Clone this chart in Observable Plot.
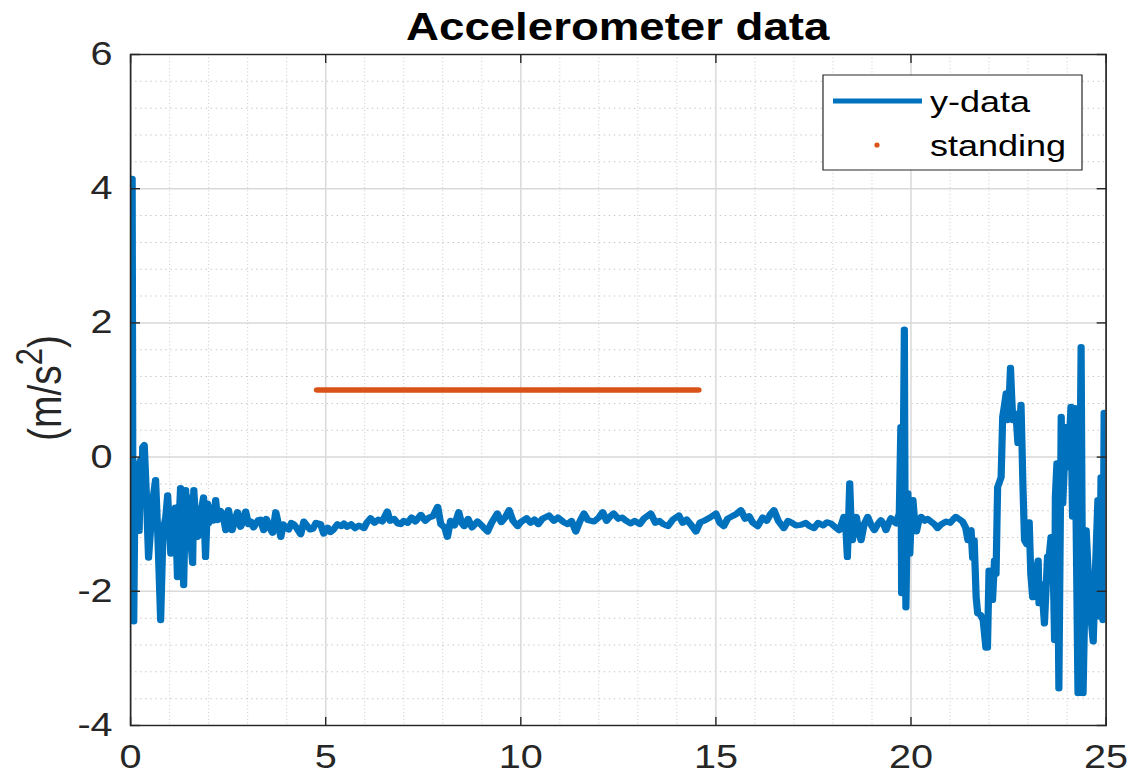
<!DOCTYPE html>
<html><head><meta charset="utf-8">
<script src="https://cdn.jsdelivr.net/npm/d3@7"></script>
<script src="https://cdn.jsdelivr.net/npm/@observablehq/plot@0.6"></script>
<style>
html,body{margin:0;padding:0;background:#fff;overflow:hidden}
#chart{width:1138px;height:783px;position:relative;overflow:hidden}
#chart svg{transform-origin:0 0;transform:scaleX(1.2);display:block;max-width:none!important}
</style></head><body><div id="chart"></div>
<script>
// ---- data ----
const time = [0.00,0.02,0.04,0.06,0.08,0.10,0.13,0.16,0.19,0.22,0.25,0.28,0.31,0.35,0.40,0.46,0.52,0.58,0.64,0.70,0.77,0.83,0.90,0.95,1.03,1.10,1.15,1.20,1.24,1.28,1.32,1.36,1.41,1.46,1.50,1.55,1.59,1.62,1.67,1.72,1.78,1.87,1.92,1.97,2.00,2.07,2.12,2.18,2.23,2.30,2.36,2.44,2.51,2.60,2.67,2.74,2.82,2.88,2.95,3.02,3.08,3.15,3.20,3.27,3.33,3.41,3.48,3.56,3.64,3.72,3.79,3.85,3.91,3.97,4.05,4.12,4.18,4.26,4.36,4.44,4.52,4.60,4.67,4.75,4.87,4.95,5.05,5.12,5.20,5.30,5.40,5.47,5.55,5.65,5.75,5.85,5.98,6.05,6.15,6.25,6.35,6.45,6.58,6.65,6.75,6.85,6.92,7.00,7.10,7.20,7.30,7.44,7.55,7.65,7.75,7.87,7.95,8.05,8.12,8.20,8.30,8.41,8.48,8.55,8.65,8.75,8.89,9.00,9.15,9.25,9.40,9.50,9.60,9.70,9.80,9.92,10.00,10.15,10.25,10.35,10.45,10.55,10.72,10.85,10.95,11.10,11.20,11.30,11.41,11.52,11.62,11.72,11.88,12.00,12.10,12.20,12.30,12.38,12.50,12.60,12.70,12.82,12.92,13.05,13.15,13.33,13.45,13.55,13.65,13.77,13.90,14.05,14.15,14.25,14.35,14.49,14.60,14.70,14.85,15.00,15.10,15.20,15.30,15.42,15.52,15.64,15.75,15.85,15.95,16.07,16.20,16.30,16.40,16.49,16.60,16.74,16.85,16.95,17.05,17.18,17.30,17.40,17.51,17.62,17.75,17.85,17.95,18.05,18.16,18.22,18.28,18.33,18.37,18.40,18.43,18.46,18.50,18.55,18.60,18.66,18.72,18.80,18.89,18.97,19.06,19.15,19.23,19.30,19.36,19.43,19.49,19.56,19.62,19.70,19.74,19.76,19.79,19.83,19.85,19.87,19.90,19.92,19.95,19.97,20.01,20.05,20.10,20.14,20.20,20.26,20.35,20.42,20.51,20.60,20.68,20.78,20.90,21.00,21.08,21.15,21.25,21.32,21.40,21.46,21.50,21.54,21.58,21.62,21.67,21.71,21.78,21.85,21.92,21.96,22.00,22.05,22.09,22.14,22.18,22.22,22.31,22.35,22.39,22.44,22.48,22.52,22.55,22.58,22.61,22.69,22.74,22.78,22.82,22.87,22.91,22.97,23.03,23.07,23.12,23.20,23.26,23.28,23.35,23.42,23.50,23.54,23.59,23.63,23.68,23.70,23.74,23.79,23.85,23.89,23.97,24.03,24.10,24.14,24.20,24.28,24.36,24.41,24.49,24.58,24.67,24.72,24.79,24.83,24.87,24.92,24.95,25.00];
const yData = [-1.15,-0.9,4.15,-1.3,-2.45,-1.2,-0.1,-1.0,-0.2,-1.1,-0.05,-0.7,0.15,0.18,-0.5,-1.5,-1.0,-0.6,-0.34,-1.2,-2.43,-1.1,-0.9,-0.57,-1.44,-1.2,-0.75,-1.79,-1.0,-0.46,-1.2,-1.91,-0.49,-1.0,-0.6,-1.3,-1.58,-0.49,-1.0,-1.19,-0.9,-0.6,-1.49,-0.69,-0.99,-0.75,-0.95,-0.64,-0.94,-0.8,-0.84,-1.09,-0.79,-1.09,-0.95,-0.82,-1.04,-0.95,-0.81,-1.0,-0.96,-1.05,-1.0,-0.94,-0.93,-1.09,-0.92,-1.05,-1.13,-0.82,-1.0,-1.19,-1.0,-1.05,-1.08,-0.98,-1.0,-1.06,-1.15,-0.96,-1.02,-1.08,-1.07,-0.98,-1.0,-1.14,-1.05,-1.12,-1.08,-1.0,-1.03,-0.99,-1.04,-1.0,-1.06,-1.02,-1.06,-0.98,-0.91,-0.98,-0.93,-0.96,-0.81,-0.95,-0.92,-0.99,-1.0,-0.95,-0.98,-0.9,-0.96,-0.86,-0.95,-0.9,-0.88,-0.74,-1.0,-1.05,-1.19,-0.95,-1.02,-0.82,-0.98,-1.03,-0.92,-1.05,-0.96,-1.02,-1.11,-0.98,-0.84,-0.97,-0.9,-0.79,-0.95,-1.03,-0.97,-0.91,-0.98,-0.93,-1.0,-0.92,-0.87,-0.95,-0.9,-0.97,-1.0,-0.95,-1.11,-0.95,-0.84,-0.94,-0.96,-0.9,-0.82,-0.95,-0.88,-0.84,-0.92,-0.9,-0.95,-0.99,-0.95,-1.0,-0.92,-0.84,-0.98,-0.95,-1.0,-1.03,-0.93,-0.87,-0.98,-0.93,-1.0,-1.11,-0.97,-0.95,-0.9,-0.84,-0.98,-1.03,-0.92,-0.88,-0.85,-0.79,-0.92,-0.88,-0.98,-1.03,-0.9,-0.95,-0.85,-0.79,-0.95,-1.06,-0.95,-0.98,-1.02,-1.01,-0.98,-1.03,-1.06,-0.98,-1.02,-0.97,-0.99,-1.04,-1.09,-1.0,-0.89,-1.05,-1.49,-0.95,-0.39,-0.9,-1.24,-1.0,-0.89,-1.1,-1.24,-1.0,-0.89,-1.0,-1.09,-1.0,-0.94,-1.0,-1.09,-0.98,-0.91,-0.96,-0.99,-0.84,0.45,-2.03,-0.8,1.9,-1.2,-2.24,-1.0,-0.54,-1.2,-1.44,-0.8,-0.64,-1.0,-1.11,-0.95,-0.89,-0.95,-0.92,-0.96,-1.0,-1.06,-1.0,-0.96,-0.98,-0.93,-0.89,-0.93,-0.96,-1.05,-1.24,-1.1,-1.09,-1.5,-1.24,-2.09,-2.33,-2.35,-2.43,-2.84,-2.84,-1.69,-1.7,-2.13,-1.54,-1.74,-0.45,-0.3,0.6,0.75,0.95,0.55,0.9,1.33,0.9,0.55,0.65,0.21,0.4,0.78,-0.45,-1.24,-1.3,-0.97,-1.74,-2.09,-1.74,-1.54,-2.18,-1.89,-2.48,-1.48,-1.48,-1.19,-1.19,-2.73,-0.59,-0.09,-3.45,0.6,-0.69,0.45,-0.15,0.75,-0.89,0.73,-3.52,1.64,-3.52,-1.09,-2.18,-2.75,-1.8,-0.64,-2.38,-0.3,-2.43,0.66,-0.2];
const standingTime = [4.78, 14.55];
const standingValue = [1, 1];
const xTicks = [0, 5, 10, 15, 20, 25];
const yTicks = [-4, -2, 0, 2, 4, 6];
const xMinorTicks = [1,2,3,4,6,7,8,9,11,12,13,14,16,17,18,19,21,22,23,24];
const yMinorTicks = [-3.6,-3.2,-2.8,-2.4,-1.6,-1.2,-0.8,-0.4,0.4,0.8,1.2,1.6,2.4,2.8,3.2,3.6,4.4,4.8,5.2,5.6];
const titleText = "Accelerometer data";
const yLabelParts = ["(m/s", "2", ")"];
const legendLabels = ["y-data", "standing"];
const colors = ["#0072BD", "#D95319"];

// ---- chart ----
const S = 1.2; // horizontal stretch of the reference
const W = 1138 / S;
const series = time.map((t, i) => ({t, v: yData[i]}));
const standing = standingTime.map((t, i) => ({t, v: standingValue[i]}));
const ink = "#262626";
const font = "'Liberation Sans', Arial, Helvetica, sans-serif";
const fmt = d => (d < 0 ? "-" : "") + Math.abs(d);

const titleMark = () => {
  const g = d3.create("svg:g");
  g.append("text").attr("x", (130 + 1105.5) / 2 / S).attr("y", 40)
    .attr("text-anchor", "middle").attr("font-size", 38).attr("font-weight", "bold")
    .attr("fill", "#000").attr("font-family", font).text(titleText);
  return g.node();
};

const yLabelMark = () => {
  const g = d3.create("svg:g");
  const t = g.append("text")
    .attr("transform", `translate(${45 / S},388) rotate(-90)`)
    .attr("text-anchor", "middle").attr("dy", "0.35em")
    .attr("font-size", 39).attr("fill", ink).attr("font-family", font);
  t.append("tspan").text(yLabelParts[0]);
  t.append("tspan").attr("font-size", 31).attr("dy", -16).text(yLabelParts[1]);
  t.append("tspan").attr("dy", 16).text(yLabelParts[2]);
  return g.node();
};

const legendMark = () => {
  const g = d3.create("svg:g").attr("font-family", font).attr("text-anchor", "start");
  g.append("rect").attr("x", 823 / S).attr("y", 75).attr("width", (1082 - 823) / S).attr("height", 95)
    .attr("fill", "#fff").attr("stroke", ink).attr("stroke-width", 1);
  g.append("line").attr("x1", 833 / S).attr("x2", 922 / S).attr("y1", 101).attr("y2", 101)
    .attr("stroke", colors[0]).attr("stroke-width", 5);
  g.append("ellipse").attr("cx", 877 / S).attr("cy", 145).attr("rx", 2.6 / S).attr("ry", 2.6).attr("fill", colors[1]);
  g.append("text").attr("x", 930 / S).attr("y", 112).attr("font-size", 30).attr("fill", "#000").attr("text-anchor", "start").text(legendLabels[0]);
  g.append("text").attr("x", 930 / S).attr("y", 156).attr("font-size", 30).attr("fill", "#000").attr("text-anchor", "start").text(legendLabels[1]);
  return g.node();
};

const chart = Plot.plot({
  width: W,
  height: 783,
  marginLeft: 130 / S,
  marginRight: (1138 - 1105.5) / S,
  marginTop: 54,
  marginBottom: 58,
  x: {domain: [0, 25]},
  y: {domain: [-4, 6]},
  style: {fontFamily: font, background: "#fff", color: ink, overflow: "visible"},
  marks: [
    Plot.gridX(xMinorTicks, {stroke: "#999", strokeOpacity: 0.55, strokeDasharray: "1,2.5", strokeWidth: 1 / S}),
    Plot.gridY(yMinorTicks, {stroke: "#999", strokeOpacity: 0.55, strokeDasharray: "1.2,3"}),
    Plot.gridX(xTicks, {stroke: "#d9d9d9", strokeOpacity: 1, strokeWidth: 1.5 / S}),
    Plot.gridY(yTicks, {stroke: "#d9d9d9", strokeOpacity: 1, strokeWidth: 1.5}),
    Plot.line(series, {x: "t", y: "v", stroke: colors[0], strokeWidth: 6, strokeLinejoin: "round", strokeLinecap: "round", clip: true}),
    Plot.line(standing, {x: "t", y: "v", stroke: colors[1], strokeWidth: 5.5, strokeLinecap: "round"}),
    Plot.frame({stroke: ink, strokeWidth: 1.4}),
    Plot.axisX(xTicks, {anchor: "bottom", tickSize: -8, tickPadding: 27, fontSize: 33, label: null, tickFormat: fmt, strokeWidth: 1.4 / S}),
    Plot.axisX(xTicks, {anchor: "top", tickSize: -8, fill: "none", label: null, strokeWidth: 1.4 / S}),
    Plot.axisY(yTicks, {anchor: "left", tickSize: -10 / S, tickPadding: 28 / S, fontSize: 33, label: null, tickFormat: fmt, strokeWidth: 1.4}),
    Plot.axisY(yTicks, {anchor: "right", tickSize: -10 / S, fill: "none", label: null, strokeWidth: 1.4}),
    titleMark,
    yLabelMark,
    legendMark
  ]
});
document.getElementById("chart").appendChild(chart);
</script></body></html>
